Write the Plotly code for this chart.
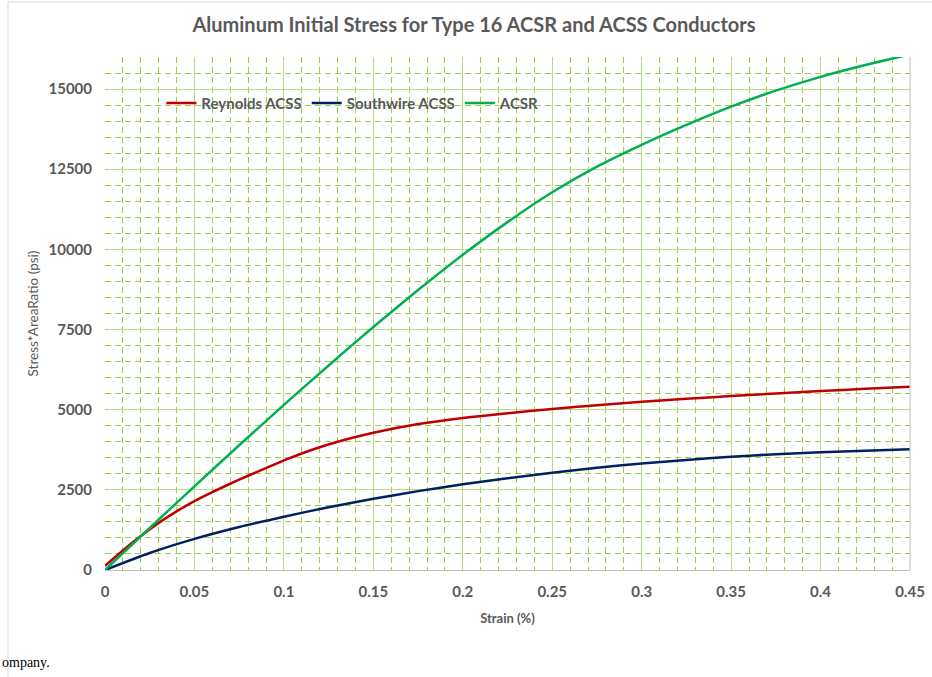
import plotly.graph_objects as go

# ---- data ----
strain_red = [0, 0.01, 0.02, 0.03, 0.04, 0.05, 0.06, 0.07, 0.08, 0.09, 0.1, 0.12, 0.14, 0.16, 0.18, 0.2,
              0.225, 0.25, 0.275, 0.3, 0.325, 0.35, 0.375, 0.4, 0.425, 0.45]
reynolds_acss = [130, 610, 1060, 1470, 1830, 2150, 2430, 2690, 2940, 3180, 3420, 3830, 4150, 4400, 4590, 4740,
                 4890, 5020, 5140, 5250, 5340, 5426, 5505, 5582, 5650, 5716]

strain_std = [0, 0.025, 0.05, 0.075, 0.1, 0.125, 0.15, 0.175, 0.2, 0.225, 0.25, 0.275, 0.3, 0.325, 0.35,
              0.375, 0.4, 0.425, 0.45]
southwire_acss = [0, 530, 970, 1340, 1660, 1960, 2220, 2460, 2672, 2860, 3035, 3190, 3320, 3430, 3533,
                  3610, 3670, 3720, 3764]
acsr = [0, 1310, 2610, 3890, 5150, 6380, 7580, 8730, 9830, 10850, 11780, 12580, 13260, 13880, 14450,
        14950, 15380, 15750, 16080]

x_ticks = [0, 0.05, 0.1, 0.15, 0.2, 0.25, 0.3, 0.35, 0.4, 0.45]
x_tick_labels = ["0", "0.05", "0.1", "0.15", "0.2", "0.25", "0.3", "0.35", "0.4", "0.45"]
y_ticks = [0, 2500, 5000, 7500, 10000, 12500, 15000]
y_tick_labels = ["0", "2500", "5000", "7500", "10000", "12500", "15000"]

FONT = "Lato"
GRAY = "#595959"


def bold(labels):
    return ["<b>%s</b>" % t for t in labels]


fig = go.Figure()
fig.add_trace(go.Scatter(x=strain_red, y=reynolds_acss, name="<b>Reynolds ACSS</b>", mode="lines",
                         line=dict(color="#C00000", width=2.5, shape="spline", smoothing=0.8)))
fig.add_trace(go.Scatter(x=strain_std, y=southwire_acss, name="<b>Southwire ACSS</b>", mode="lines",
                         line=dict(color="#002060", width=2.5, shape="spline", smoothing=0.6)))
fig.add_trace(go.Scatter(x=strain_std, y=acsr, name="<b>ACSR</b>", mode="lines",
                         line=dict(color="#00B050", width=2.5, shape="spline", smoothing=0.6)))

fig.update_layout(
    width=932, height=677,
    margin=dict(l=105, r=22, t=57, b=107),
    paper_bgcolor="white", plot_bgcolor="white",
    font=dict(family=FONT, color=GRAY),
    title=dict(text="<b>Aluminum Initial Stress for Type 16 ACSR and ACSS Conductors</b>",
               x=474 / 932, xanchor="center", y=1 - 25 / 677, yanchor="middle",
               font=dict(size=20, color=GRAY, family=FONT)),
    legend=dict(orientation="h", x=0.07, y=0.91, xanchor="left", yanchor="middle",
                bgcolor="rgba(0,0,0,0)", font=dict(size=15, color=GRAY, family=FONT),
                itemwidth=30, tracegroupgap=0),
    showlegend=True,
)

fig.update_xaxes(
    range=[0, 0.45], tickvals=x_ticks, ticktext=bold(x_tick_labels), automargin=False,
    showgrid=True, gridcolor="#B4DC82", gridwidth=1,
    minor=dict(dtick=0.01, showgrid=True, gridcolor="#9ACD4E", griddash="6px,4px", gridwidth=1),
    showline=True, linecolor="#BFBFBF", linewidth=1, zeroline=False,
    tickfont=dict(size=15, color=GRAY, family=FONT), ticklabelstandoff=8,
    title=dict(text="<b>Strain (%)</b>", font=dict(size=13, color=GRAY, family=FONT), standoff=14),
)
fig.update_yaxes(
    range=[0, 16000], tickvals=y_ticks, ticktext=bold(y_tick_labels), automargin=False,
    showgrid=True, gridcolor="#B4DC82", gridwidth=1,
    minor=dict(dtick=500, showgrid=True, gridcolor="#9ACD4E", griddash="6px,4px", gridwidth=1),
    showline=False, zeroline=False,
    tickfont=dict(size=15, color=GRAY, family=FONT), ticklabelstandoff=12,
    title=dict(text="Stress*AreaRatio (psi)", font=dict(size=13.5, color=GRAY, family=FONT), standoff=6),
)

# right border of plot area and outer chart border (left + top visible)
fig.add_shape(type="line", xref="paper", yref="paper", x0=1, x1=1, y0=0, y1=1,
              line=dict(color="#BFBFBF", width=1))
fig.add_shape(type="rect", xref="paper", yref="paper",
              x0=(8 - 105) / 805, x1=(960 - 105) / 805, y0=(570 - 700) / 513, y1=(570 - 2) / 513,
              line=dict(color="#D9D9D9", width=1), layer="below")

fig.add_annotation(text="ompany.", xref="paper", yref="paper",
                   x=(0 - 105) / 805, y=(570 - 662) / 513, xanchor="left", yanchor="middle",
                   showarrow=False, font=dict(family="Liberation Serif", size=14, color="black"))

fig.write_html("out.html", config={"displayModeBar": False},
               post_script="document.body.style.margin='0';")
